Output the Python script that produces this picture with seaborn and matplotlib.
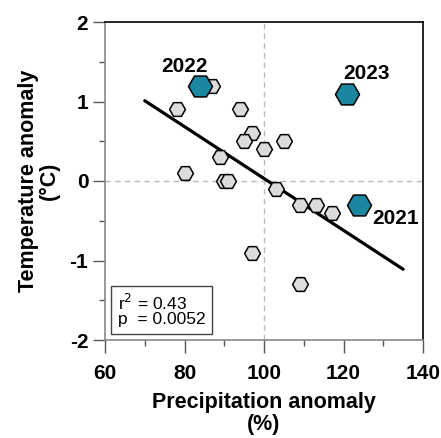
import matplotlib
matplotlib.use("Agg")
import matplotlib.pyplot as plt
import seaborn as sns
import pandas as pd

sns.set_theme(style="white")
plt.rcParams["font.family"] = ["Liberation Sans", "DejaVu Sans"]
plt.rcParams["axes.unicode_minus"] = False
plt.rcParams["text.color"] = "black"
plt.rcParams["axes.labelcolor"] = "black"
plt.rcParams["xtick.color"] = "black"
plt.rcParams["ytick.color"] = "black"

# Background years: precipitation anomaly (%) vs temperature anomaly (°C)
precip = [87, 78, 94, 97, 95, 100, 105, 89, 80, 90, 91, 103, 109, 113, 117, 97, 109]
temp = [1.2, 0.9, 0.9, 0.6, 0.5, 0.4, 0.5, 0.3, 0.1, 0.0, 0.0, -0.1, -0.3, -0.3, -0.4, -0.9, -1.3]

# Highlighted recent years
hl_years = ["2022", "2023", "2021"]
hl_precip = [84, 121, 124]
hl_temp = [1.2, 1.1, -0.3]

# Least-squares trend line end points
trend_x = [70, 135]
trend_y = [1.01, -1.11]

stats_text = "r$^2$ = 0.43\np  = 0.0052"

df = pd.DataFrame({"precip": precip, "temp": temp})
hl = pd.DataFrame({"precip": hl_precip, "temp": hl_temp, "year": hl_years})
tr = pd.DataFrame({"x": trend_x, "y": trend_y})

fig = plt.figure(figsize=(4.41, 4.38), dpi=100)
ax = fig.add_axes([105 / 441, 98 / 438, 318 / 441, 318 / 438])

ax.axhline(0, color="#bbbbbb", lw=1, ls=(0, (4, 3)), zorder=1)
ax.axvline(100, color="#bbbbbb", lw=1, ls=(0, (4, 3)), zorder=1)

sns.lineplot(data=tr, x="x", y="y", color="black", lw=2.3, ax=ax, zorder=2)
sns.scatterplot(data=df, x="precip", y="temp", marker="H", s=130,
                color="#dcdcdc", edgecolor="black", linewidth=1.1, ax=ax, zorder=3)
sns.scatterplot(data=hl, x="precip", y="temp", marker="H", s=300,
                color="#1a86a0", edgecolor="black", linewidth=1.1, ax=ax, zorder=4)

label_offsets = {"2022": (-3.9, 0.24), "2023": (4.9, 0.25), "2021": (9.0, -0.17)}
for yr, px, ty in zip(hl_years, hl_precip, hl_temp):
    dx, dy = label_offsets[yr]
    ax.text(px + dx, ty + dy, yr, fontsize=15, fontweight="bold",
            ha="center", va="center", zorder=5)

ax.text(63.2, -1.62, stats_text, fontsize=12.5, ha="left", va="center",
        linespacing=0.95,
        bbox=dict(boxstyle="square,pad=0.38", fc="white", ec="#444444", lw=1))

ax.set_xlim(60, 140)
ax.set_ylim(-2, 2)
ax.set_xticks([60, 80, 100, 120, 140])
ax.set_yticks([-2, -1, 0, 1, 2])
ax.set_xticks([70, 90, 110, 130], minor=True)
ax.set_yticks([-1.5, -0.5, 0.5, 1.5], minor=True)
ax.tick_params(which="major", direction="out", length=9, width=1, color="#555555",
               labelsize=15, bottom=True, left=True)
ax.tick_params(axis="x", which="major", pad=8)
ax.tick_params(axis="y", which="major", pad=3)
ax.tick_params(which="minor", direction="out", length=4.5, width=1, color="#555555",
               bottom=True, left=True)
for lab in ax.get_xticklabels() + ax.get_yticklabels():
    lab.set_fontweight("bold")

for side in ["top", "right"]:
    ax.spines[side].set_color("black")
    ax.spines[side].set_linewidth(1.2)
for side in ["left", "bottom"]:
    ax.spines[side].set_color("#888888")
    ax.spines[side].set_linewidth(1.2)

ax.set_xlabel("Precipitation anomaly\n(%)", fontsize=15.5, fontweight="bold",
              labelpad=7, linespacing=1.05)
ax.set_ylabel("Temperature anomaly\n(°C)", fontsize=15.5, fontweight="bold",
              labelpad=7, linespacing=1.0)

fig.savefig("out.png", dpi=100)
